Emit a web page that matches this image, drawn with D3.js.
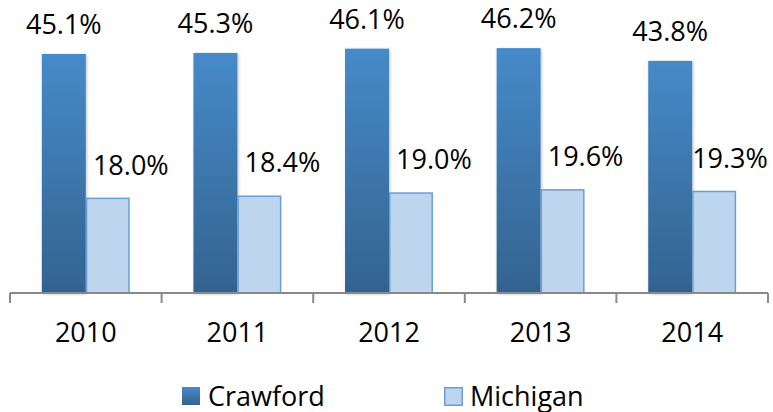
<!DOCTYPE html>
<html lang="en">
    <head>
        <meta charset="utf-8">
        <title>Crawford vs Michigan</title>
        <script type="text/javascript" src="https://cdn.jsdelivr.net/npm/d3@7"></script>
        <style>
            body { margin: 0; background: #fff; }
            text { font-family: "Open Sans", sans-serif; fill: #000; }
        </style>
    </head>
    <body>
        <script type="text/javascript">

            //Data
            var years = ["2010", "2011", "2012", "2013", "2014"];
            var crawford = [45.1, 45.3, 46.1, 46.2, 43.8];
            var michigan = [18.0, 18.4, 19.0, 19.6, 19.3];
            var seriesNames = ["Crawford", "Michigan"];

            //Width and height
            var w = 773;
            var h = 412;

            var svg = d3.select("body")
                    .append("svg")
                    .attr("width", w)
                    .attr("height", h);

            //Gradient for Crawford bars
            var defs = svg.append("defs");
            var grad = defs.append("linearGradient")
                    .attr("id", "crawGrad")
                    .attr("x1", 0).attr("y1", 0)
                    .attr("x2", 0).attr("y2", 1);
            grad.append("stop").attr("offset", "0%").attr("stop-color", "#468AC9");
            grad.append("stop").attr("offset", "100%").attr("stop-color", "#33638F");

            var shadow = defs.append("filter")
                    .attr("id", "shadow")
                    .attr("x", "-20%").attr("y", "-5%")
                    .attr("width", "140%").attr("height", "110%");
            shadow.append("feDropShadow")
                    .attr("dx", 1).attr("dy", 1)
                    .attr("stdDeviation", 1.5)
                    .attr("flood-color", "#000")
                    .attr("flood-opacity", 0.25);

            //Scales
            var xScale = d3.scaleBand()
                    .domain(years)
                    .range([10, 768]);

            var yScale = d3.scaleLinear()
                    .domain([0, 50])
                    .range([293, 28]);

            var barW = xScale.bandwidth() * 0.29;

            //Crawford bars
            svg.selectAll("rect.craw")
                    .data(crawford)
                    .enter()
                    .append("rect")
                    .attr("class", "craw")
                    .attr("x", function (d, i) {
                        return xScale(years[i]) + xScale.bandwidth() / 2 - barW;
                    })
                    .attr("y", function (d) {
                        return yScale(d);
                    })
                    .attr("width", barW)
                    .attr("height", function (d) {
                        return yScale(0) - yScale(d);
                    })
                    .attr("fill", "url(#crawGrad)")
                    .attr("filter", "url(#shadow)");

            //Michigan bars
            svg.selectAll("rect.mich")
                    .data(michigan)
                    .enter()
                    .append("rect")
                    .attr("class", "mich")
                    .attr("x", function (d, i) {
                        return xScale(years[i]) + xScale.bandwidth() / 2 + 0.75;
                    })
                    .attr("y", function (d) {
                        return yScale(d) + 0.75;
                    })
                    .attr("width", barW - 1.5)
                    .attr("height", function (d) {
                        return yScale(0) - yScale(d) - 0.75;
                    })
                    .attr("fill", "#BDD6EE")
                    .attr("stroke", "#6A9FD5")
                    .attr("stroke-width", 1.5);

            //X axis
            var xAxis = d3.axisBottom(xScale)
                    .tickSize(0)
                    .tickPadding(30);

            var gx = svg.append("g")
                    .attr("transform", "translate(0," + yScale(0) + ")")
                    .call(xAxis);
            gx.select(".domain").remove();
            gx.selectAll("text")
                    .attr("font-size", "27px")
                    .attr("font-family", "'Open Sans', sans-serif")
                    .attr("dy", "0.71em")
                    .attr("y", 30);

            gx.append("line")
                    .attr("x1", 10).attr("x2", 768)
                    .attr("y1", 0).attr("y2", 0)
                    .attr("stroke", "#898989")
                    .attr("stroke-width", 2);

            gx.selectAll("line.tk")
                    .data(years.concat(["end"]))
                    .enter()
                    .append("line")
                    .attr("class", "tk")
                    .attr("x1", function (d, i) {
                        return i < years.length ? xScale(d) : xScale.range()[1];
                    })
                    .attr("x2", function (d, i) {
                        return i < years.length ? xScale(d) : xScale.range()[1];
                    })
                    .attr("y1", 0).attr("y2", 10)
                    .attr("stroke", "#898989")
                    .attr("stroke-width", 2);

            //Labels
            svg.selectAll("text.crawLbl")
                    .data(crawford)
                    .enter()
                    .append("text")
                    .attr("class", "crawLbl")
                    .attr("text-anchor", "middle")
                    .attr("font-size", "27px")
                    .attr("x", function (d, i) {
                        return xScale(years[i]) + xScale.bandwidth() / 2 - barW / 2;
                    })
                    .attr("y", function (d) {
                        return yScale(d) - 20;
                    })
                    .text(function (d) {
                        return d.toFixed(1) + "%";
                    });

            svg.selectAll("text.michLbl")
                    .data(michigan)
                    .enter()
                    .append("text")
                    .attr("class", "michLbl")
                    .attr("text-anchor", "middle")
                    .attr("font-size", "27px")
                    .attr("x", function (d, i) {
                        var cx = xScale(years[i]) + xScale.bandwidth() / 2 + barW / 2 + 23;
                        return Math.min(cx, w - 43);
                    })
                    .attr("y", function (d) {
                        return yScale(d) - 23;
                    })
                    .text(function (d) {
                        return d.toFixed(1) + "%";
                    });

            //Legend
            var legendX = [182, 444];
            var legend = svg.selectAll("g.legend")
                    .data(seriesNames)
                    .enter()
                    .append("g")
                    .attr("class", "legend")
                    .attr("transform", function (d, i) {
                        return "translate(" + legendX[i] + ",387)";
                    });

            legend.append("rect")
                    .attr("x", function (d, i) { return i ? 0.75 : 0; })
                    .attr("y", function (d, i) { return i ? 0.75 : 0; })
                    .attr("width", function (d, i) { return i ? 17.5 : 18; })
                    .attr("height", function (d, i) { return i ? 17.5 : 18; })
                    .attr("fill", function (d, i) { return i ? "#BDD6EE" : "url(#crawGrad)"; })
                    .attr("stroke", function (d, i) { return i ? "#6A9FD5" : "none"; })
                    .attr("stroke-width", 1.5);

            legend.append("text")
                    .attr("x", 26)
                    .attr("y", 18.5)
                    .attr("font-size", "27px")
                    .text(function (d) { return d; });

        </script>
    </body>
</html>
